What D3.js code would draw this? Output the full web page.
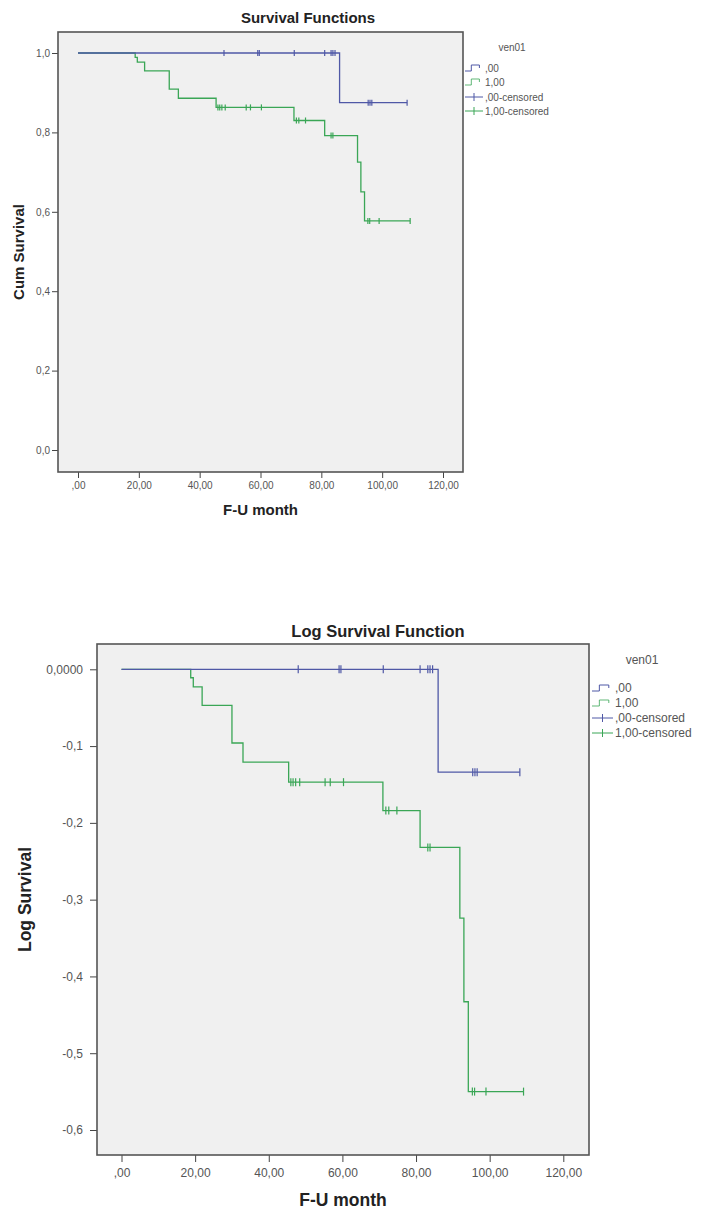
<!DOCTYPE html>
<html>
<head>
<meta charset="utf-8">
<script src="https://cdn.jsdelivr.net/npm/d3@7"></script>
<style>
  html, body { margin: 0; padding: 0; background: #ffffff; }
  svg { display: block; font-family: "Liberation Sans", Arial, sans-serif; }
</style>
</head>
<body>
<svg id="chart" width="710" height="1211"></svg>
<script>
// ---------- data ----------
const xTicks = [0, 20, 40, 60, 80, 100, 120];
const xTickLabels = [",00", "20,00", "40,00", "60,00", "80,00", "100,00", "120,00"];

const survTicks = [0, 0.2, 0.4, 0.6, 0.8, 1.0];
const survTickLabels = ["0,0", "0,2", "0,4", "0,6", "0,8", "1,0"];

const logTicks = [0, -0.1, -0.2, -0.3, -0.4, -0.5, -0.6];
const logTickLabels = ["0,0000", "-0,1", "-0,2", "-0,3", "-0,4", "-0,5", "-0,6"];

const legendTitle = "ven01";
const legendLabels = [",00", "1,00", ",00-censored", "1,00-censored"];

// group ,00
const g0EventTimes = [0, 86.0];
const g0Surv = [1.0, 0.875];
const g0LogSurv = [0, -0.134];
const g0EndTime = 108.2;
const g0CensorTimes = [48.0, 59.1, 59.6, 71.1, 81.1, 83.2, 83.8, 84.5, 95.4, 96.0, 96.6, 108.2];

// group 1,00
const g1EventTimes = [0, 18.8, 19.5, 21.9, 30.0, 33.0, 45.4, 71.0, 81.1, 91.9, 93.0, 94.2];
const g1Surv = [1.0, 0.989, 0.977, 0.955, 0.909, 0.886, 0.863, 0.830, 0.792, 0.725, 0.650, 0.577];
const g1LogSurv = [0, -0.011, -0.023, -0.047, -0.096, -0.121, -0.147, -0.184, -0.232, -0.324, -0.433, -0.550];
const g1EndTime = 109.2;
const g1CensorTimes = [46.0, 46.6, 47.3, 48.4, 55.3, 56.7, 60.3, 71.8, 72.6, 74.8, 83.2, 83.8, 95.3, 95.9, 99.0, 109.2];

// ---------- drawing ----------
const svg = d3.select("#chart");
const colG0 = "#4f58a6";
const colG1 = "#3aa656";

function stepValue(times, vals, t) {
  let v = vals[0];
  for (let i = 0; i < times.length; i++) { if (times[i] <= t) v = vals[i]; }
  return v;
}

function drawChart(cfg) {
  const g = svg.append("g");
  const f = cfg.frame;
  const x = d3.scaleLinear().domain([0, 120]).range(cfg.xRange);
  const y = d3.scaleLinear().domain(cfg.yDomain).range(cfg.yRange);

  g.append("rect").attr("x", f.x).attr("y", f.y).attr("width", f.w).attr("height", f.h)
    .attr("fill", "#f0f0f0");

  // title
  g.append("text").attr("x", cfg.titlePos[0]).attr("y", cfg.titlePos[1])
    .attr("text-anchor", "middle").attr("font-weight", "bold")
    .attr("font-size", cfg.titleSize).attr("fill", "#222").text(cfg.title);

  // x axis
  const xAxis = d3.axisBottom(x).tickValues(xTicks)
    .tickFormat((d, i) => xTickLabels[i]).tickSize(cfg.tickLen).tickPadding(cfg.xPad);
  const gx = g.append("g").attr("transform", `translate(0,${f.y + f.h})`).call(xAxis);
  gx.select(".domain").remove();
  gx.selectAll("line").attr("stroke", "#444");
  gx.selectAll("text").attr("font-size", cfg.tickSize).attr("fill", "#555")
    .attr("font-family", "Liberation Sans, Arial, sans-serif");

  // y axis
  const yAxis = d3.axisLeft(y).tickValues(cfg.yTicks)
    .tickFormat((d, i) => cfg.yTickLabels[i]).tickSize(cfg.tickLen).tickPadding(cfg.yPad);
  const gy = g.append("g").attr("transform", `translate(${f.x},0)`).call(yAxis);
  gy.select(".domain").remove();
  gy.selectAll("line").attr("stroke", "#444");
  gy.selectAll("text").attr("font-size", cfg.tickSize).attr("fill", "#555")
    .attr("font-family", "Liberation Sans, Arial, sans-serif");

  // axis titles
  g.append("text").attr("x", f.x + f.w / 2).attr("y", cfg.xTitleY)
    .attr("text-anchor", "middle").attr("font-weight", "bold")
    .attr("font-size", cfg.axisTitleSize).attr("fill", "#222").text("F-U month");
  g.append("text")
    .attr("transform", `translate(${cfg.yTitleX},${f.y + f.h / 2}) rotate(-90)`)
    .attr("text-anchor", "middle").attr("font-weight", "bold")
    .attr("font-size", cfg.axisTitleSize).attr("fill", "#222").text(cfg.yTitle);

  // curves
  const line = d3.line().x(d => x(d.t)).y(d => y(d.v)).curve(d3.curveStepAfter);
  cfg.series.forEach(s => {
    const pts = s.times.map((t, i) => ({ t, v: s.vals[i] }));
    pts.push({ t: s.end, v: s.vals[s.vals.length - 1] });
    g.append("path").datum(pts).attr("d", line).attr("fill", "none")
      .attr("stroke", s.color).attr("stroke-width", 1.3);
    g.selectAll(null).data(s.censor).enter().append("line")
      .attr("x1", d => x(d)).attr("x2", d => x(d))
      .attr("y1", d => y(stepValue(s.times, s.vals, d)) - cfg.censorHalf)
      .attr("y2", d => y(stepValue(s.times, s.vals, d)) + cfg.censorHalf)
      .attr("stroke", s.color).attr("stroke-width", 1.2);
  });

  // frame
  g.append("rect").attr("x", f.x).attr("y", f.y).attr("width", f.w).attr("height", f.h)
    .attr("fill", "none").attr("stroke", "#555").attr("stroke-width", 1.6);

  // legend
  const L = cfg.legend;
  g.append("text").attr("x", L.titleX).attr("y", L.titleY).attr("text-anchor", "middle")
    .attr("font-size", L.size).attr("fill", "#555").text(legendTitle);
  const legColors = [colG0, colG1, colG0, colG1];
  legendLabels.forEach((lab, i) => {
    const yy = L.rows[i];
    const x0 = L.symX, w = L.symW;
    if (i < 2) {
      g.append("path")
        .attr("d", `M${x0},${yy + 3}H${x0 + w * 0.35}V${yy - 3}H${x0 + w * 0.8}V${yy}`)
        .attr("fill", "none").attr("stroke", legColors[i]).attr("stroke-width", 1)
        .attr("opacity", i === 0 ? 1 : 0.8);
    } else {
      g.append("line").attr("x1", x0).attr("x2", x0 + w).attr("y1", yy).attr("y2", yy)
        .attr("stroke", legColors[i]).attr("stroke-width", 1);
      g.append("line").attr("x1", x0 + w / 2).attr("x2", x0 + w / 2)
        .attr("y1", yy - 4).attr("y2", yy + 4)
        .attr("stroke", legColors[i]).attr("stroke-width", 1);
    }
    g.append("text").attr("x", L.textX).attr("y", yy + L.size * 0.35)
      .attr("font-size", L.size).attr("fill", "#555").text(lab);
  });
}

drawChart({
  title: "Survival Functions", titlePos: [308, 23], titleSize: 15,
  frame: { x: 58, y: 32, w: 405, h: 440 },
  xRange: [78, 443], yDomain: [0, 1], yRange: [450, 53],
  yTicks: survTicks, yTickLabels: survTickLabels,
  tickLen: 6, xPad: 4, yPad: 2, tickSize: 10,
  xTitleY: 515, yTitleX: 24, axisTitleSize: 15, yTitle: "Cum Survival",
  censorHalf: 3,
  series: [
    { times: g1EventTimes, vals: g1Surv, end: g1EndTime, censor: g1CensorTimes, color: colG1 },
    { times: g0EventTimes, vals: g0Surv, end: g0EndTime, censor: g0CensorTimes, color: colG0 }
  ],
  legend: { titleX: 512, titleY: 51, size: 10, symX: 465, symW: 18, textX: 485, rows: [68, 82, 97, 111] }
});

drawChart({
  title: "Log Survival Function", titlePos: [378, 637], titleSize: 16.5,
  frame: { x: 97, y: 644, w: 492, h: 511 },
  xRange: [121.5, 563.3], yDomain: [0, -0.6], yRange: [669.3, 1130],
  yTicks: logTicks, yTickLabels: logTickLabels,
  tickLen: 7, xPad: 6, yPad: 7, tickSize: 12,
  xTitleY: 1206, yTitleX: 31, axisTitleSize: 17.5, yTitle: "Log Survival",
  censorHalf: 4,
  series: [
    { times: g1EventTimes, vals: g1LogSurv, end: g1EndTime, censor: g1CensorTimes, color: colG1 },
    { times: g0EventTimes, vals: g0LogSurv, end: g0EndTime, censor: g0CensorTimes, color: colG0 }
  ],
  legend: { titleX: 642, titleY: 664, size: 12, symX: 592, symW: 21, textX: 615, rows: [688, 703, 718, 733] }
});
</script>
</body>
</html>
